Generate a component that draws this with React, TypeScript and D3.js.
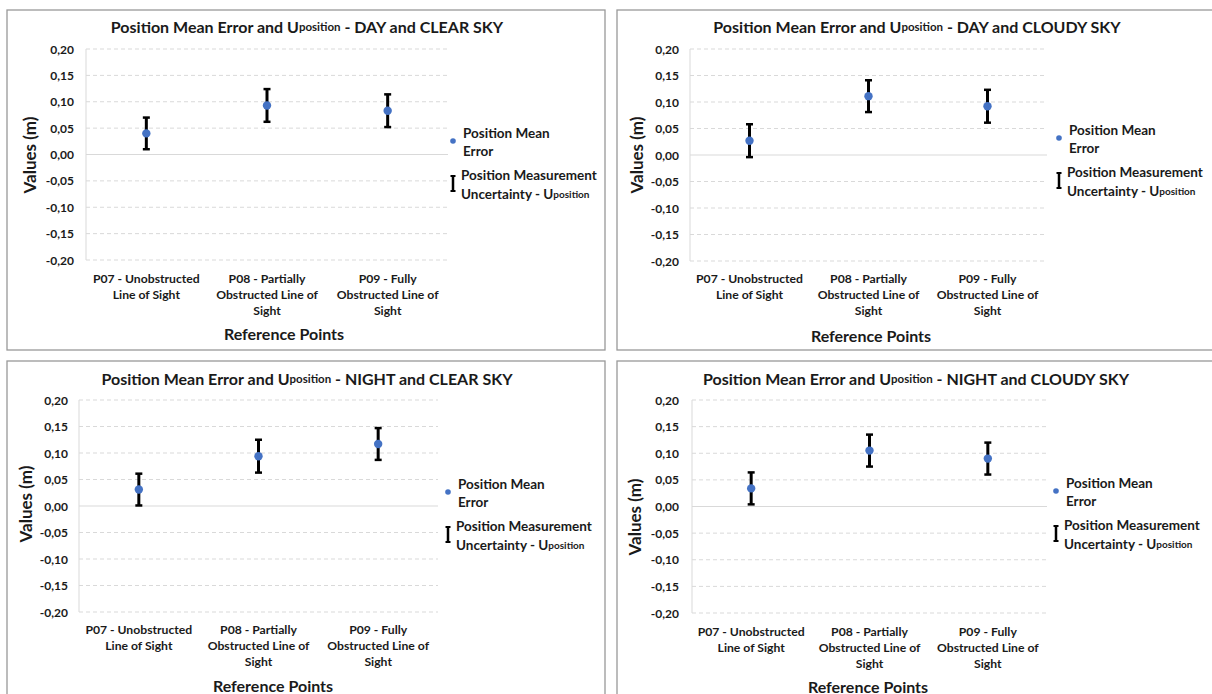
import React, { useEffect, useRef } from 'react';
import { select, scaleBand, scaleLinear } from 'd3';

const categories = ['P07', 'P08', 'P09'];
const categoryLabels = [
  ['P07 - Unobstructed', 'Line of Sight'],
  ['P08 - Partially', 'Obstructed Line of', 'Sight'],
  ['P09 - Fully', 'Obstructed Line of', 'Sight'],
];
const yTicks = [0.2, 0.15, 0.1, 0.05, 0, -0.05, -0.1, -0.15, -0.2];
const yTickLabels = ['0,20', '0,15', '0,10', '0,05', '0,00', '-0,05', '-0,10', '-0,15', '-0,20'];
const conditions = ['DAY and CLEAR SKY', 'DAY and CLOUDY SKY', 'NIGHT and CLEAR SKY', 'NIGHT and CLOUDY SKY'];

const meanDayClear = [0.04, 0.093, 0.083];
const meanDayCloudy = [0.027, 0.111, 0.092];
const meanNightClear = [0.031, 0.094, 0.117];
const meanNightCloudy = [0.034, 0.105, 0.09];

const uDayClear = [0.03, 0.031, 0.031];
const uDayCloudy = [0.031, 0.03, 0.031];
const uNightClear = [0.03, 0.031, 0.03];
const uNightCloudy = [0.03, 0.03, 0.03];

const FONT = "Lato, 'Open Sans', sans-serif";
const BLUE = '#4472C4';
const GRID = '#d9d9d9';

// page geometry of the four panels
const panels = [
  { mean: meanDayClear, u: uDayClear, box: [7, 10, 605, 350], plot: [86, 448, 49, 260], title: [307, 26], tickX: 74, yTitle: [29, 155], xLabelY: 278, xTitle: [284, 333], legend: [453, 141] },
  { mean: meanDayCloudy, u: uDayCloudy, box: [617, 10, 1214, 350], plot: [690, 1047, 49, 261], title: [917, 26], tickX: 679, yTitle: [636, 155], xLabelY: 278, xTitle: [871, 335], legend: [1059, 138] },
  { mean: meanNightClear, u: uNightClear, box: [7, 361, 605, 700], plot: [79, 438, 400, 612], title: [307, 378], tickX: 68, yTitle: [25, 504], xLabelY: 629, xTitle: [273, 685], legend: [448, 492] },
  { mean: meanNightCloudy, u: uNightCloudy, box: [617, 361, 1214, 700], plot: [692, 1047, 400, 613], title: [916, 378], tickX: 679, yTitle: [634, 517], xLabelY: 631, xTitle: [868, 686], legend: [1056, 491] },
];

export default function App() {
  const svgRef = useRef(null);

  useEffect(() => {
    const svg = select(svgRef.current);
    svg.selectAll('*').remove();
    svg.append('rect').attr('width', 1212).attr('height', 694).attr('fill', '#fff');

    panels.forEach((p, i) => {
      const g = svg.append('g').attr('font-family', FONT).attr('font-weight', 700).attr('fill', '#1a1a1a');
      const [bx0, by0, bx1, by1] = p.box;
      g.append('rect')
        .attr('x', bx0).attr('y', by0).attr('width', bx1 - bx0).attr('height', by1 - by0)
        .attr('fill', 'none').attr('stroke', '#999').attr('stroke-width', 1.3);

      const [x0, x1, y0, y1] = p.plot;
      const x = scaleBand().domain(categories).range([x0, x1]).padding(0);
      const y = scaleLinear().domain([-0.2, 0.2]).range([y1, y0]);
      const cx = (c) => x(c) + x.bandwidth() / 2;

      // gridlines
      g.selectAll('.grid')
        .data(yTicks)
        .join('line')
        .attr('x1', x0).attr('x2', x1)
        .attr('y1', d => y(d)).attr('y2', d => y(d))
        .attr('stroke', GRID).attr('stroke-width', 1)
        .attr('stroke-dasharray', d => (d === 0 ? null : '4,3'));
      g.append('line')
        .attr('x1', x0).attr('x2', x0).attr('y1', y(0.2)).attr('y2', y(-0.2))
        .attr('stroke', GRID).attr('stroke-width', 1);

      // tick labels
      g.selectAll('.tick')
        .data(yTicks)
        .join('text')
        .attr('x', p.tickX).attr('y', d => y(d))
        .attr('text-anchor', 'end').attr('dominant-baseline', 'central')
        .attr('font-size', 12)
        .text((d, k) => yTickLabels[k]);

      // category labels
      categories.forEach((c, k) => {
        const t = g.append('text').attr('text-anchor', 'middle').attr('font-size', 12.2);
        categoryLabels[k].forEach((line, j) => {
          t.append('tspan').attr('x', cx(c)).attr('y', p.xLabelY + j * 16)
            .attr('dominant-baseline', 'central').text(line);
        });
      });

      // title
      const title = g.append('text').attr('x', p.title[0]).attr('y', p.title[1])
        .attr('text-anchor', 'middle').attr('dominant-baseline', 'central').attr('font-size', 16);
      title.append('tspan').text('Position Mean Error and U');
      title.append('tspan').attr('font-size', 11.5).text('position');
      title.append('tspan').text(' - ' + conditions[i]);

      // axis titles
      g.append('text').attr('x', p.xTitle[0]).attr('y', p.xTitle[1])
        .attr('text-anchor', 'middle').attr('dominant-baseline', 'central').attr('font-size', 16)
        .text('Reference Points');
      g.append('text')
        .attr('transform', `translate(${p.yTitle[0]},${p.yTitle[1]}) rotate(-90)`)
        .attr('text-anchor', 'middle').attr('dominant-baseline', 'central').attr('font-size', 17)
        .text('Values (m)');

      // error bars
      const bars = g.selectAll('.err')
        .data(categories)
        .join('g');
      bars.append('line')
        .attr('x1', c => cx(c)).attr('x2', c => cx(c))
        .attr('y1', (c, k) => y(p.mean[k] + p.u[k])).attr('y2', (c, k) => y(p.mean[k] - p.u[k]))
        .attr('stroke', '#000').attr('stroke-width', 3);
      [1, -1].forEach(s => {
        bars.append('line')
          .attr('x1', c => cx(c) - 3.5).attr('x2', c => cx(c) + 3.5)
          .attr('y1', (c, k) => y(p.mean[k] + s * p.u[k])).attr('y2', (c, k) => y(p.mean[k] + s * p.u[k]))
          .attr('stroke', '#000').attr('stroke-width', 2.5);
      });
      g.selectAll('.dot')
        .data(categories)
        .join('circle')
        .attr('cx', c => cx(c)).attr('cy', (c, k) => y(p.mean[k]))
        .attr('r', 4.2).attr('fill', BLUE);

      // legend
      const [lx, ly] = p.legend;
      g.append('circle').attr('cx', lx).attr('cy', ly).attr('r', 2.8).attr('fill', BLUE);
      const l1 = g.append('text').attr('font-size', 13.5);
      l1.append('tspan').attr('x', lx + 10).attr('y', ly - 8.5).attr('dominant-baseline', 'central').text('Position Mean');
      l1.append('tspan').attr('x', lx + 10).attr('y', ly + 9.5).attr('dominant-baseline', 'central').text('Error');
      g.append('line').attr('x1', lx).attr('x2', lx).attr('y1', ly + 35).attr('y2', ly + 50)
        .attr('stroke', '#000').attr('stroke-width', 2.5);
      [35, 50].forEach(o => {
        g.append('line').attr('x1', lx - 2.5).attr('x2', lx + 2.5).attr('y1', ly + o).attr('y2', ly + o)
          .attr('stroke', '#000').attr('stroke-width', 2);
      });
      const l2 = g.append('text').attr('font-size', 13.5);
      l2.append('tspan').attr('x', lx + 8).attr('y', ly + 34).attr('dominant-baseline', 'central').text('Position Measurement');
      const l2b = l2.append('tspan').attr('x', lx + 8).attr('y', ly + 53).attr('dominant-baseline', 'central');
      l2b.append('tspan').text('Uncertainty - U');
      l2.append('tspan').attr('font-size', 10).attr('dominant-baseline', 'central').text('position');
    });
  }, []);

  return (
    <React.Fragment>
      <svg ref={svgRef} width={1212} height={694} style={{ position: 'absolute', left: 0, top: 0 }}></svg>
    </React.Fragment>
  );
}
